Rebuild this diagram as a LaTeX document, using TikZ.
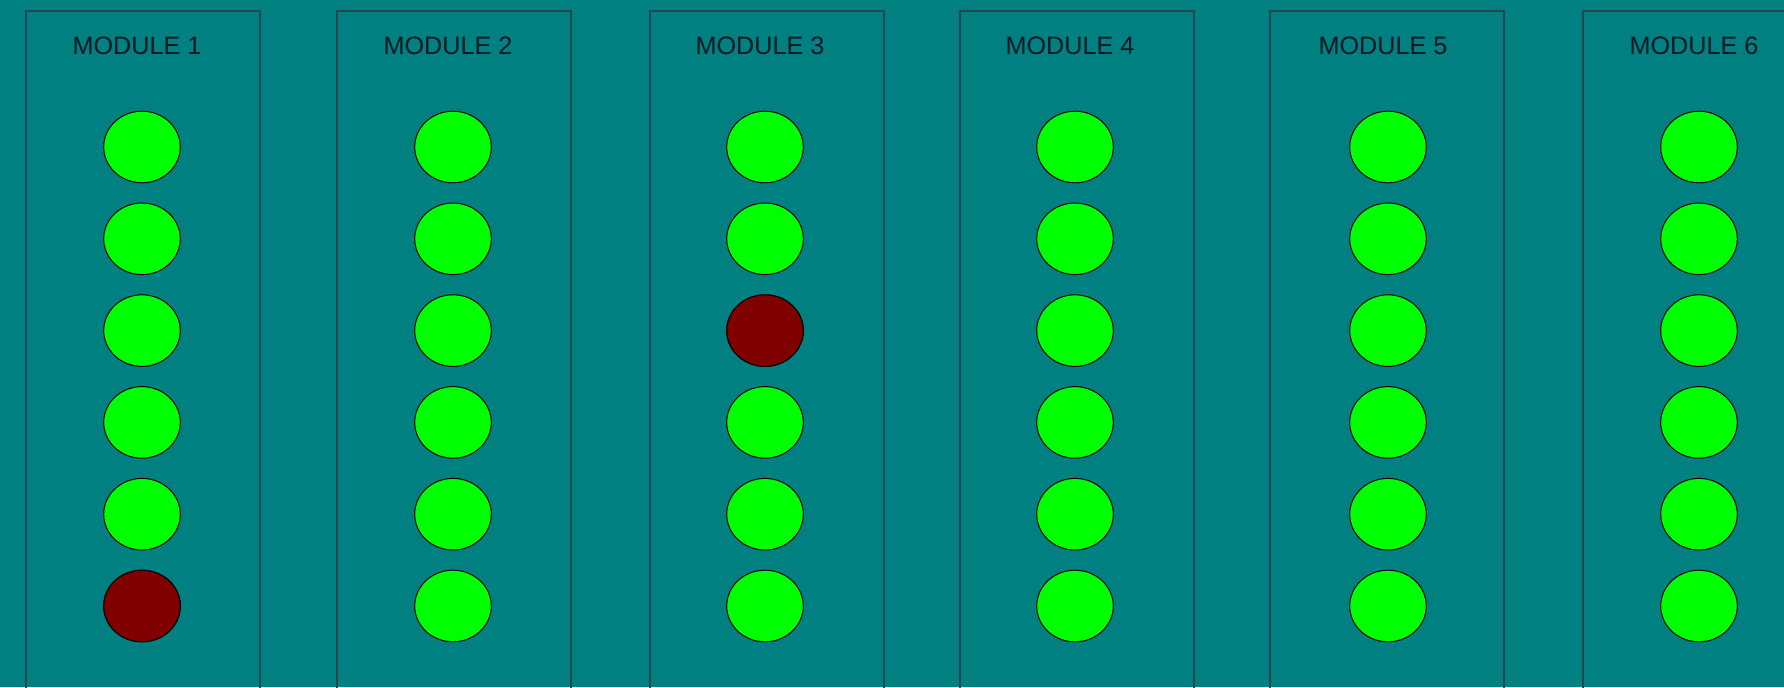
\documentclass[tikz,border=0pt]{standalone}
\usepackage{fontspec}
\setmainfont{Liberation Sans}
\usetikzlibrary{shapes.geometric}
\definecolor{bg}{RGB}{0,128,128}
\definecolor{frame}{RGB}{38,70,82}
\definecolor{ledon}{RGB}{0,255,0}
\definecolor{ledfail}{RGB}{128,0,0}
\definecolor{titlecol}{RGB}{10,25,35}
\tikzset{
  panel/.style={rectangle, draw=frame, line width=0.8pt, fill=none, anchor=north west,
    minimum width=117pt, minimum height=360pt, inner sep=0pt},
  led/.style={ellipse, draw=black, line width=0.5pt, fill=ledon,
    minimum width=38.3pt, minimum height=35.8pt, inner sep=0pt},
  fail/.style={fill=ledfail},
  title/.style={font=\fontsize{12.6}{14}\selectfont, text=titlecol, inner sep=0pt, anchor=base}
}
\begin{document}
\begin{tikzpicture}[x=0.5pt,y=-0.5pt]
\fill[bg] (0,0) rectangle (1784,687);
\useasboundingbox (0,0) rectangle (1784,687);
\clip (0,0) rectangle (1784,687);
\foreach \i/\l/\c in {1/25/142, 2/336/453, 3/649/765, 4/959/1075, 5/1269/1388, 6/1582/1699} {
  \node[panel] (p\i) at (\l,10) {};
  \node[title] (t\i) at (\c-5,54) {MODULE \i};
  \foreach \j in {1,...,6} {
    \pgfmathsetmacro{\yy}{147+91.8*(\j-1)}
    \node[led] (l\i-\j) at (\c,\yy) {};
  }
}
\node[led, fail] (f1) at (l1-6) {};
\node[led, fail] (f3) at (l3-3) {};
\end{tikzpicture}
\end{document}
